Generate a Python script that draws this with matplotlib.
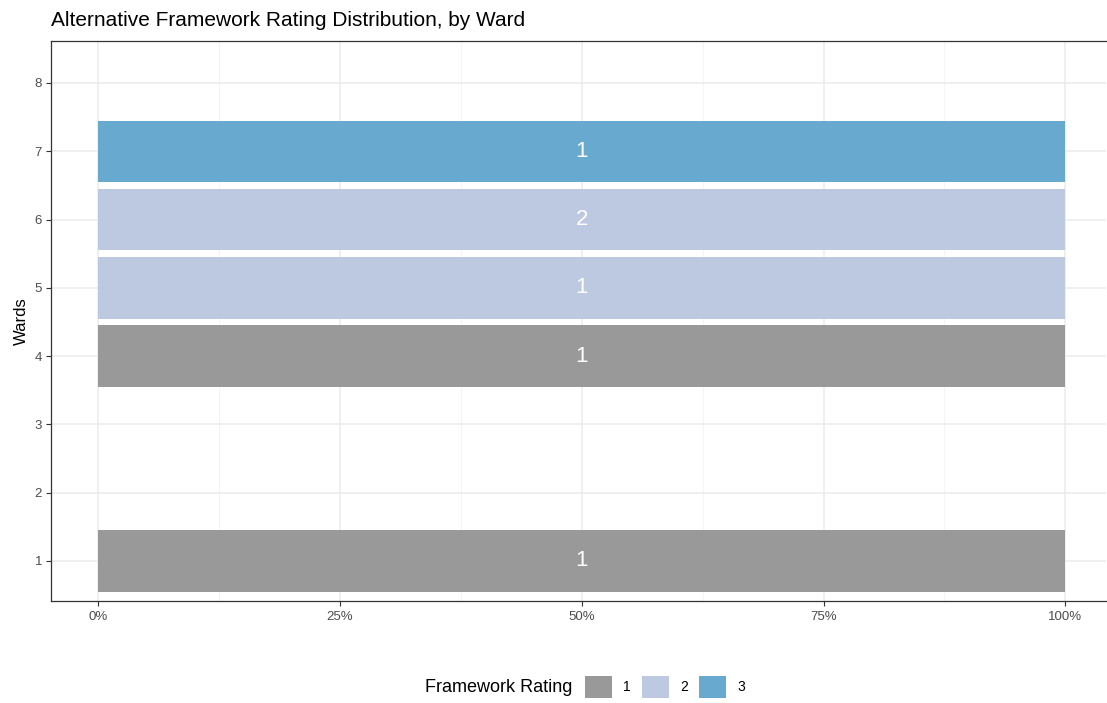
import matplotlib.pyplot as plt
from matplotlib.patches import Patch
from matplotlib.ticker import FixedLocator, PercentFormatter

plt.rcParams['font.family'] = ['Liberation Sans', 'DejaVu Sans']

# data
wards = [1, 4, 5, 6, 7]
ratings = ['1', '1', '2', '2', '3']
counts = [1, 1, 1, 2, 1]
shares = [1.0, 1.0, 1.0, 1.0, 1.0]
rating_levels = ['1', '2', '3']
rating_colors = {'1': '#999999', '2': '#BDC9E1', '3': '#67A9CF'}

fig = plt.figure(figsize=(11.07, 7.03), dpi=100)
ax = fig.add_axes([51 / 1107, 1 - 601 / 703, 1055 / 1107, 560 / 703])

for w, r, c, s in zip(wards, ratings, counts, shares):
    ax.barh(w, s, height=0.9, color=rating_colors[r], zorder=2)
    ax.text(s / 2, w, str(c), ha='center', va='center', color='white',
            fontsize=16, zorder=3)

ax.set_xlim(-0.0486, 1.042)
ax.set_ylim(0.414, 8.615)
ax.xaxis.set_major_locator(FixedLocator([0, 0.25, 0.5, 0.75, 1.0]))
ax.xaxis.set_minor_locator(FixedLocator([0.125, 0.375, 0.625, 0.875]))
ax.xaxis.set_major_formatter(PercentFormatter(1.0, decimals=0))
ax.set_yticks(range(1, 9))

ax.grid(which='major', color='#EBEBEB', linewidth=1.1, zorder=0)
ax.grid(which='minor', axis='x', color='#F2F2F2', linewidth=0.6, zorder=0)
ax.set_axisbelow(True)
for sp in ax.spines.values():
    sp.set_color('#333333')
    sp.set_linewidth(0.9)
ax.spines['right'].set_visible(False)
ax.tick_params(which='major', length=3.5, width=0.8, color='#333333',
               labelcolor='#4D4D4D', labelsize=9.5, pad=3)
ax.tick_params(which='minor', length=0)
ax.tick_params(axis='x', pad=4)

ax.set_ylabel('Wards', fontsize=12, labelpad=4)
fig.text(51 / 1107, 1 - 20 / 703, 'Alternative Framework Rating Distribution, by Ward',
         fontsize=15, ha='left', va='center')

# legend along the bottom
fig.text(425 / 1107, 1 - 687 / 703, 'Framework Rating', fontsize=13,
         ha='left', va='center')
handles = [Patch(facecolor=rating_colors[r], edgecolor='none', label=r) for r in rating_levels]
fig.legend(handles=handles, loc='center left', bbox_to_anchor=(585 / 1107, 1 - 687 / 703),
           ncol=3, frameon=False, fontsize=10, handlelength=1.95, handleheight=1.95,
           handletextpad=0.8, columnspacing=0.8, borderpad=0, borderaxespad=0)

fig.savefig('out.png', dpi=100)
